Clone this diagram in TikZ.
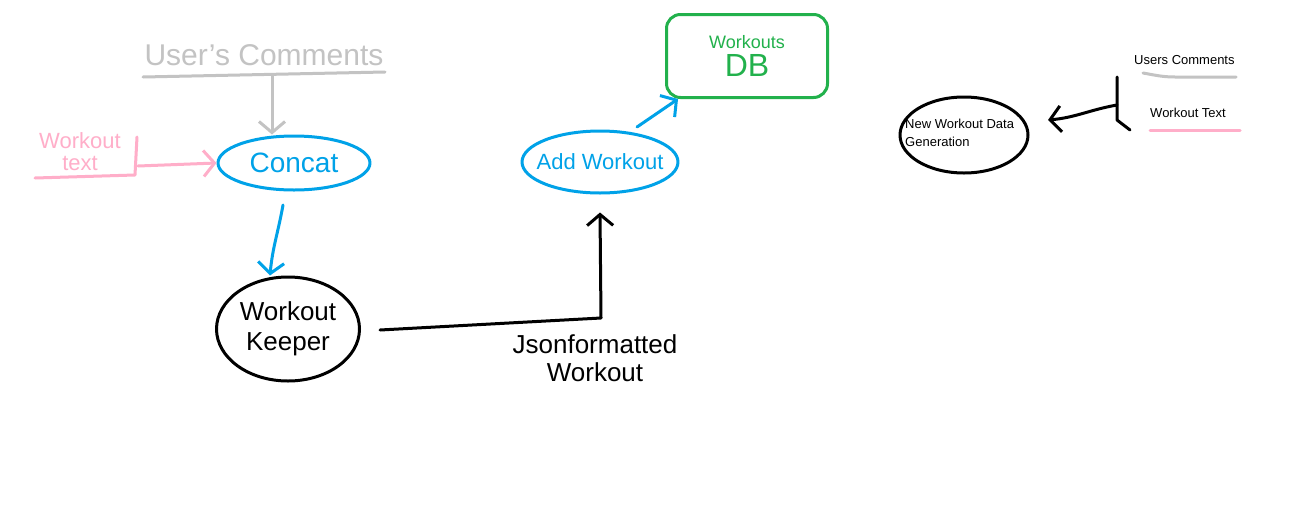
\documentclass[tikz,border=0pt]{standalone}
\usepackage{fontspec}
\setmainfont{Liberation Sans}
\usetikzlibrary{shapes.geometric,arrows.meta}
\definecolor{pgray}{RGB}{195,195,195}
\definecolor{ppink}{RGB}{255,174,201}
\definecolor{pblue}{RGB}{0,162,232}
\definecolor{pgreen}{RGB}{34,177,76}
\tikzset{
  pen/.style={line width=3pt,line cap=round,line join=round},
  barb/.style={-{Straight Barb[length=11pt,width=26pt,line width=3pt]}},
  oval/.style={pen,ellipse,inner sep=0pt,align=center},
  hand/.style={inner sep=0pt,align=center},
  small/.style={inner sep=0pt,font=\fontsize{13}{18}\selectfont,align=left},
}
\begin{document}
\begin{tikzpicture}[x=1pt,y=-1pt]
\useasboundingbox[fill=white] (0,0) rectangle (1314,517);
% User's comments
\node[hand,text=pgray,font=\fontsize{30}{32}\selectfont] (uc) at (264,55) {User's Comments};
\coordinate (ucl) at (143,77);
\coordinate (ucr) at (385,72);
\draw[pen,pgray] (ucl) -- (ucr);
\coordinate (ucm) at (272,76);
% Workout text
\node[hand,text=ppink,font=\fontsize{22}{22}\selectfont] (wt) at (80,152) {Workout\\text};
\coordinate (wtl) at (35,178);
\coordinate (wtr) at (135,175);
\coordinate (wtt) at (137,137);
\draw[pen,ppink] (wtl) -- (wtr) -- (wtt);
\coordinate (wts) at (138,166);
% Concat
\node[oval,draw=pblue,text=pblue,minimum width=152pt,minimum height=54pt,font=\fontsize{28}{28}\selectfont] (concat) at (294,163) {Concat};
\draw[pen,pgray,barb] (ucm) -- (concat.north -| ucm);
\draw[pen,ppink,barb] (wts) -- (concat.west);
% Workout keeper
\node[oval,draw=black,minimum width=143pt,minimum height=104pt,font=\fontsize{26}{30}\selectfont] (keeper) at (288,329) {Workout\\Keeper};
\coordinate (cs) at (283,205);
\draw[pen,pblue,barb] (cs) to[out=260,in=85] (keeper.north -| 270,0);
% Add workout
\node[oval,draw=pblue,minimum width=156pt,minimum height=62pt] (add) at (600,162) {};
\node[hand,text=pblue,font=\fontsize{22}{22}\selectfont] (addt) at (add.center) {Add Workout};
\coordinate (ks) at (380,330);
\coordinate (bend) at (601,318);
\draw[pen,barb] (ks) -- (bend) -- ([yshift=-18pt]add.south);
\node[hand,font=\fontsize{26}{28}\selectfont] (json) at (595,358) {Jsonformatted\\Workout};
% Workouts DB
\node[pen,draw=pgreen,text=pgreen,rounded corners=14pt,minimum width=161pt,minimum height=83pt,inner sep=0pt,align=center] (db) at (747,56) {\fontsize{18}{18}\selectfont Workouts\\[4pt]\fontsize{32}{32}\selectfont DB};
\coordinate (as) at (637,127);
\draw[pen,pblue,barb] (as) -- (db.south west -| 678,0);
% New Workout Data Generation
\node[oval,draw=black,minimum width=128pt,minimum height=76pt] (gen) at (964,135) {};
\node[small,anchor=north west] (gent) at (905,119) {New Workout Data\\Generation};
\coordinate (vt) at (1117,77);
\coordinate (vm) at (1117,105);
\coordinate (vb) at (1117,120);
\coordinate (ve) at (1130,130);
\coordinate (ge) at (1048,120);
\draw[pen] (vt) -- (vb) -- (ve);
\draw[pen,barb] (vm) to[out=190,in=5] (ge);
% Legend
\node[small,anchor=west] (lg1) at (1134,60) {Users Comments};
\draw[pen,pgray] (1143,73) to[out=-10,in=180] (1175,77) -- (1236,77);
\node[small,anchor=west] (lg2) at (1150,113) {Workout Text};
\draw[pen,ppink] (1150,130) -- (1240,130);
\end{tikzpicture}
\end{document}
